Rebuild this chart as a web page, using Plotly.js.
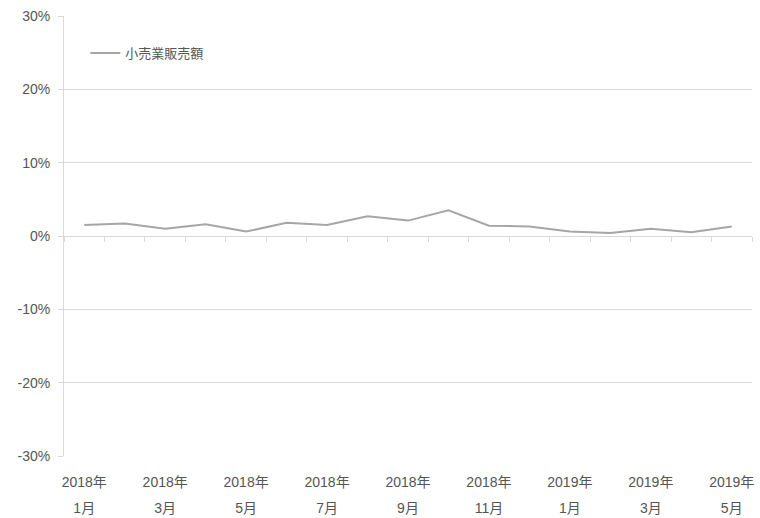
<!DOCTYPE html>
<html>
<head>
<meta charset="utf-8">
<script src="https://cdn.plot.ly/plotly-3.0.1.min.js"></script>
<style>html,body{margin:0;padding:0;background:#fff;}#chart{width:760px;height:518px;}</style>
</head>
<body>
<div id="chart"></div>
<script>
const categories = ["2018-01","2018-02","2018-03","2018-04","2018-05","2018-06","2018-07","2018-08","2018-09","2018-10","2018-11","2018-12","2019-01","2019-02","2019-03","2019-04","2019-05"];
const retailSales = [1.5, 1.7, 1.0, 1.6, 0.6, 1.8, 1.5, 2.7, 2.1, 3.5, 1.4, 1.3, 0.6, 0.4, 1.0, 0.5, 1.3];
const tickCats = ["2018-01","2018-03","2018-05","2018-07","2018-09","2018-11","2019-01","2019-03","2019-05"];
const yearLabels = ["2018年","2018年","2018年","2018年","2018年","2018年","2019年","2019年","2019年"];
const monthLabels = ["1月","3月","5月","7月","9月","11月","1月","3月","5月"];
const yTickVals = [-30, -20, -10, 0, 10, 20, 30];
const yTickText = ["-30%","-20%","-10%","0%","10%","20%","30%"];
const seriesName = "小売業販売額";

const fontFam = "Liberation Sans, Noto Sans CJK JP, sans-serif";
const grid = "#d9d9d9";
const txt = "#555555";

const traces = [
  {x: categories, y: retailSales, xaxis: "x", yaxis: "y", type: "scatter", mode: "lines",
   line: {color: "rgba(0,0,0,0)", width: 0}, showlegend: false, hoverinfo: "skip"},
  {x: categories, y: retailSales, xaxis: "x3", yaxis: "y", type: "scatter", mode: "lines",
   line: {color: "rgba(0,0,0,0)", width: 0}, showlegend: false, hoverinfo: "skip"},
  {x: categories, y: retailSales, xaxis: "x2", yaxis: "y", type: "scatter", mode: "lines",
   name: seriesName, line: {color: "#a6a6a6", width: 2}}
];

const baseCat = {type: "category", categoryorder: "array", categoryarray: categories,
                 range: [-0.5, categories.length - 0.5], showgrid: false, zeroline: false};

const layout = {
  width: 760, height: 518,
  margin: {l: 64, r: 8, t: 16, b: 62},
  paper_bgcolor: "#fff", plot_bgcolor: "#fff",
  font: {family: fontFam, color: txt, size: 13},
  showlegend: true,
  legend: {x: 0.031, y: 0.916, xanchor: "left", yanchor: "middle", bgcolor: "rgba(0,0,0,0)",
           font: {size: 13, color: txt}, itemwidth: 30, tracegroupgap: 0},
  xaxis: Object.assign({}, baseCat, {
          tickmode: "array", tickvals: tickCats, ticktext: yearLabels,
          ticks: "", showline: false,
          tickfont: {size: 14, color: txt}, ticklabelstandoff: 16}),
  xaxis3: Object.assign({}, baseCat, {
          overlaying: "x", anchor: "y", side: "bottom",
          tickmode: "array", tickvals: tickCats, ticktext: monthLabels,
          ticks: "", showline: false,
          tickfont: {size: 14, color: txt}, ticklabelstandoff: 42}),
  xaxis2: Object.assign({}, baseCat, {
           overlaying: "x", anchor: "free", position: 0.5,
           showticklabels: false, ticks: "outside", tickson: "boundaries", ticklen: 5,
           tickcolor: grid, showline: true, linecolor: grid, linewidth: 1}),
  yaxis: {range: [-30, 30], tickmode: "array", tickvals: yTickVals, ticktext: yTickText,
          showgrid: true, gridcolor: grid, gridwidth: 1,
          showline: true, linecolor: grid, ticks: "outside", ticklen: 5, tickcolor: grid,
          zeroline: false, tickfont: {size: 14, color: txt}, ticklabelstandoff: 5}
};

Plotly.newPlot("chart", traces, layout, {displayModeBar: false, staticPlot: true});
</script>
</body>
</html>
